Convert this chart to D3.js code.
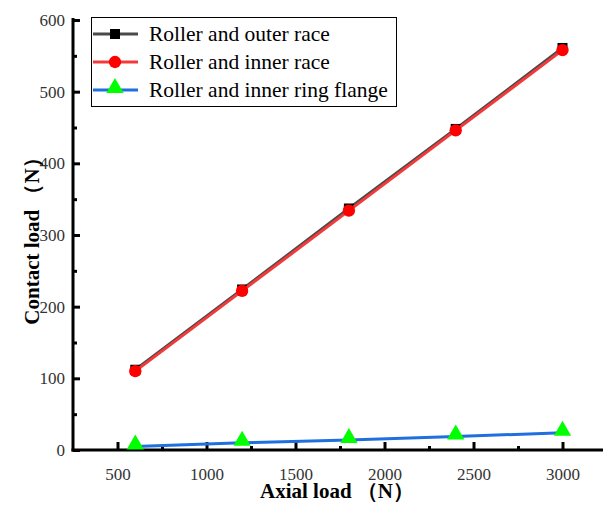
<!DOCTYPE html>
<html><head><meta charset="utf-8">
<script src="https://cdn.jsdelivr.net/npm/d3@7"></script>
</head><body style="margin:0;background:#fff">
<svg id="c" width="603" height="506"></svg>
<script>
const axialLoad = [600, 1200, 1800, 2400, 3000];
const outerRace = [112, 224, 337, 448, 561];
const innerRace = [110, 222, 334, 446, 558];
const flange = [5, 10, 14, 19, 24];
const xTicks = [500, 1000, 1500, 2000, 2500, 3000];
const xMinorTicks = [750, 1250, 1750, 2250, 2750];
const yTicks = [0, 100, 200, 300, 400, 500, 600];
const yMinorTicks = [50, 150, 250, 350, 450, 550];
const seriesNames = ["Roller and outer race", "Roller and inner race", "Roller and inner ring flange"];

const svg = d3.select("#c");
const xs = d3.scaleLinear().domain([250, 3250]).range([73, 607]);
const ys = d3.scaleLinear().domain([0, 600]).range([450, 20]);
const FONT = "Liberation Serif";

const gx = svg.append("g").attr("transform", "translate(0,450)");
gx.call(d3.axisBottom(xs).tickValues(xTicks).tickSizeInner(-8).tickSizeOuter(0).tickPadding(18).tickFormat(d3.format("d")));
const gxm = svg.append("g").attr("transform", "translate(0,450)");
gxm.call(d3.axisBottom(xs).tickValues(xMinorTicks).tickSizeInner(-4).tickSizeOuter(0).tickFormat(""));
const gy = svg.append("g").attr("transform", "translate(73,0)");
gy.call(d3.axisLeft(ys).tickValues(yTicks).tickSizeInner(-7).tickSizeOuter(0).tickPadding(8).tickFormat(d3.format("d")));
const gym = svg.append("g").attr("transform", "translate(73,0)");
gym.call(d3.axisLeft(ys).tickValues(yMinorTicks).tickSizeInner(-4).tickSizeOuter(0).tickFormat(""));
gxm.select(".domain").remove();
gym.select(".domain").remove();
svg.selectAll(".domain").attr("stroke", "#000").attr("stroke-width", 3);
svg.selectAll(".tick line").attr("stroke", "#000").attr("stroke-width", 3);
svg.selectAll(".tick text").attr("font-family", FONT).attr("font-size", 17).attr("fill", "#333");
gy.select(".domain").attr("d", "M0,18V451.5");
gx.select(".domain").attr("d", "M71.5,0H603");

const series = [
  {name: seriesNames[0], vals: outerRace, line: "#4a4a4a", mark: "#000", shape: "square"},
  {name: seriesNames[1], vals: innerRace, line: "#f23a3a", mark: "#ff0000", shape: "circle"},
  {name: seriesNames[2], vals: flange, line: "#1f6fde", mark: "#00ff00", shape: "triangle"}
];
const sym = {square: d3.symbolSquare, circle: d3.symbolCircle, triangle: d3.symbolTriangle};
const size = {square: 100, circle: 120, triangle: 130};
const lineGen = d3.line().x(d => xs(d[0])).y(d => ys(d[1]));
series.forEach(s => {
  const pts = axialLoad.map((a, i) => [a, s.vals[i]]);
  svg.append("path").attr("d", lineGen(pts)).attr("fill", "none").attr("stroke", s.line).attr("stroke-width", 3);
  svg.selectAll(null).data(pts).enter().append("path")
    .attr("d", d3.symbol(sym[s.shape], size[s.shape])())
    .attr("transform", d => `translate(${xs(d[0])},${ys(d[1]) - (s.shape === "triangle" ? 2 : 0)})`)
    .attr("fill", s.mark);
});

const lg = svg.append("g");
lg.append("rect").attr("x", 91.5).attr("y", 17.5).attr("width", 305).attr("height", 89)
  .attr("fill", "#fff").attr("stroke", "#000").attr("stroke-width", 1);
series.forEach((s, i) => {
  const ly = 34 + i * 28;
  lg.append("line").attr("x1", 93).attr("x2", 138).attr("y1", ly).attr("y2", ly).attr("stroke", s.line).attr("stroke-width", 3);
  lg.append("path").attr("d", d3.symbol(sym[s.shape], size[s.shape])()).attr("transform", `translate(115,${ly - (s.shape === "triangle" ? 2 : 0)})`).attr("fill", s.mark);
  lg.append("text").attr("x", 149).attr("y", ly + 7).attr("font-family", FONT).attr("font-size", 21.5).attr("fill", "#000").text(s.name);
});

svg.append("text").attr("x", 337).attr("y", 498).attr("text-anchor", "middle")
  .attr("font-family", FONT).attr("font-weight", "bold").attr("font-size", 21).text("Axial load （N）");
svg.append("text").attr("transform", "translate(32,236) rotate(-90)").attr("text-anchor", "middle")
  .attr("dy", "0.35em").attr("font-family", FONT).attr("font-weight", "bold").attr("font-size", 21).text("Contact load （N）");
</script></body></html>
